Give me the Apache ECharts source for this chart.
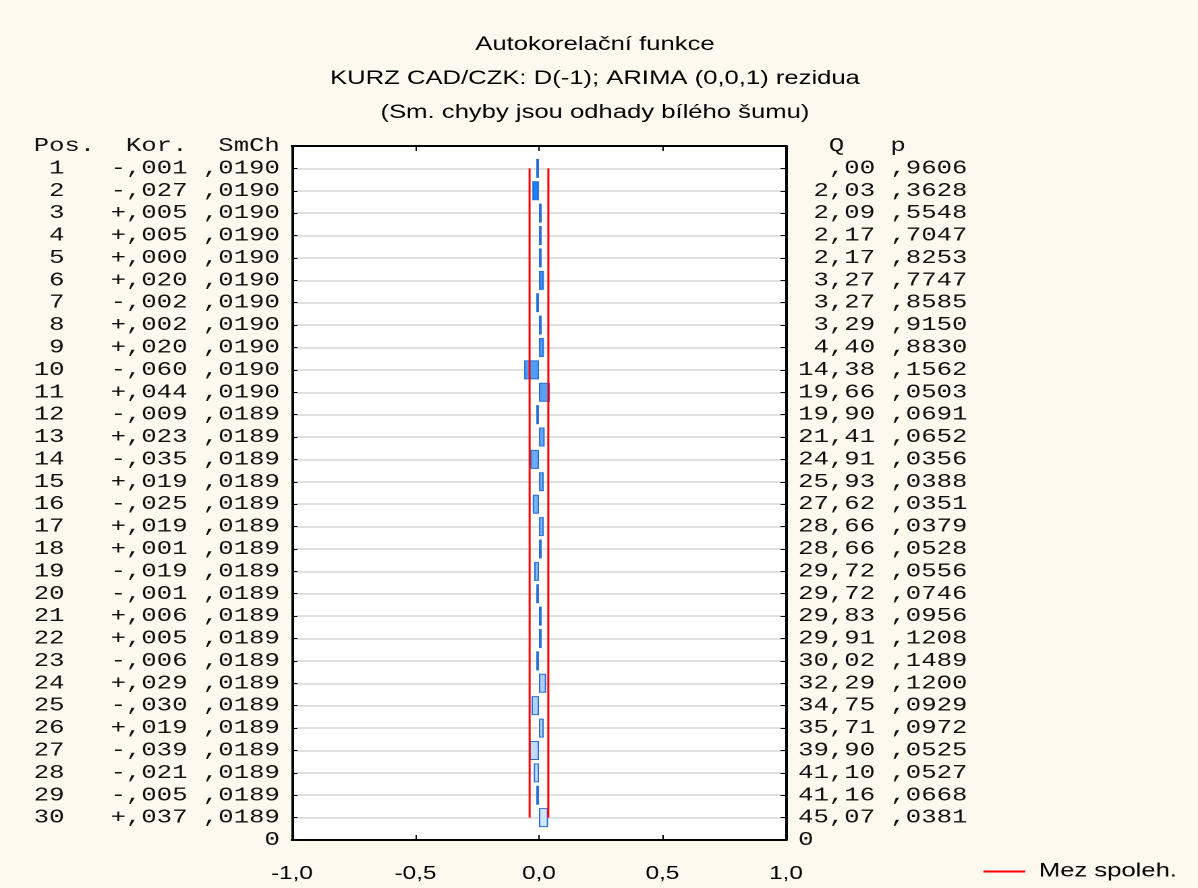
<!DOCTYPE html>
<html>
<head>
<meta charset="utf-8">
<script src="https://cdn.jsdelivr.net/npm/echarts@6/dist/echarts.min.js"></script>
<style>
html, body { margin: 0; padding: 0; background: #fdf9ef; overflow: hidden; }
/* the reference is stretched sideways, so the chart is drawn narrow and scaled */
#main { width: 888px; height: 888px; transform: scaleX(1.3491); transform-origin: 0 0; }
</style>
</head>
<body>
<div id="main"></div>
<script>
// data
var lags = [1, 2, 3, 4, 5, 6, 7, 8, 9, 10, 11, 12, 13, 14, 15, 16, 17, 18, 19, 20, 21, 22, 23, 24, 25, 26, 27, 28, 29, 30];
var kor = [-0.001, -0.027, 0.005, 0.005, 0.000, 0.020, -0.002, 0.002, 0.020, -0.060,
	0.044, -0.009, 0.023, -0.035, 0.019, -0.025, 0.019, 0.001, -0.019, -0.001,
	0.006, 0.005, -0.006, 0.029, -0.030, 0.019, -0.039, -0.021, -0.005, 0.037];
var smch = [0.0190, 0.0190, 0.0190, 0.0190, 0.0190, 0.0190, 0.0190, 0.0190, 0.0190, 0.0190,
	0.0190, 0.0189, 0.0189, 0.0189, 0.0189, 0.0189, 0.0189, 0.0189, 0.0189, 0.0189,
	0.0189, 0.0189, 0.0189, 0.0189, 0.0189, 0.0189, 0.0189, 0.0189, 0.0189, 0.0189];
var qStat = [0.00, 2.03, 2.09, 2.17, 2.17, 3.27, 3.27, 3.29, 4.40, 14.38,
	19.66, 19.90, 21.41, 24.91, 25.93, 27.62, 28.66, 28.66, 29.72, 29.72,
	29.83, 29.91, 30.02, 32.29, 34.75, 35.71, 39.90, 41.10, 41.16, 45.07];
var pVal = [0.9606, 0.3628, 0.5548, 0.7047, 0.8253, 0.7747, 0.8585, 0.9150, 0.8830, 0.1562,
	0.0503, 0.0691, 0.0652, 0.0356, 0.0388, 0.0351, 0.0379, 0.0528, 0.0556, 0.0746,
	0.0956, 0.1208, 0.1489, 0.1200, 0.0929, 0.0972, 0.0525, 0.0527, 0.0668, 0.0381];
// confidence limits (Mez spoleh.)
var mez = [0.0380, 0.0380, 0.0380, 0.0380, 0.0380, 0.0380, 0.0380, 0.0380, 0.0380, 0.0380,
	0.0380, 0.0378, 0.0378, 0.0378, 0.0378, 0.0378, 0.0378, 0.0378, 0.0378, 0.0378,
	0.0378, 0.0378, 0.0378, 0.0378, 0.0378, 0.0378, 0.0378, 0.0378, 0.0378, 0.0378];

// cislo bez nuly pred carkou: 0.0190 -> ,0190
function fmtNum(v, dec) {
	var s = Math.abs(v).toFixed(dec).replace('.', ',');
	if (s.charAt(0) === '0') s = s.substring(1);
	return s;
}
function pad(s, n) {
	s = String(s);
	while (s.length < n) s = ' ' + s;
	return s;
}

var leftLabels = ['Pos.  Kor.  SmCh'];
var rightLabels = ['  Q   p'];
for (var i = 0; i < lags.length; i++) {
	leftLabels.push(pad(lags[i], 2) + '   ' + (kor[i] < 0 ? '-' : '+') + fmtNum(kor[i], 3) + ' ' + fmtNum(smch[i], 4));
	rightLabels.push(pad(fmtNum(qStat[i], 2), 5) + ' ' + fmtNum(pVal[i], 4));
}
leftLabels.push('0');
rightLabels.push('0');

var barData = [];
var upper = [];
var lower = [];
for (var j = 0; j < lags.length; j++) {
	barData.push([kor[j], lags[j]]);
	upper.push([mez[j], lags[j]]);
	lower.push([-mez[j], lags[j]]);
}

function rowColor(params) {
	var t = (params.dataIndex) / (lags.length - 1);
	var a = [22, 125, 245], b = [210, 231, 252];
	var c = a.map(function (v, k) { return Math.round(v + (b[k] - v) * t); });
	return 'rgb(' + c.join(',') + ')';
}

var monoLabel = {
	fontFamily: 'Liberation Mono',
	fontSize: 19,
	color: '#111',
	interval: 0,
	margin: 9
};

var myChart = echarts.init(document.getElementById('main'), null, { devicePixelRatio: 2 });

var option = {
	backgroundColor: '#fdf9ef',
	animation: false,
	title: {
		text: 'Autokorelační funkce\nKURZ CAD/CZK: D(-1); ARIMA (0,0,1) rezidua\n(Sm. chyby jsou odhady bílého šumu)',
		left: 441,
		top: 28,
		padding: 0,
		textAlign: 'center',
		textStyle: {
			fontFamily: 'Liberation Sans',
			fontSize: 19,
			fontWeight: 'normal',
			color: '#000',
			lineHeight: 34
		}
	},
	legend: {
		data: ['Mez spoleh.'],
		left: 729,
		top: 862,
		padding: 0,
		icon: 'rect',
		itemWidth: 31,
		itemHeight: 2,
		textStyle: {
			fontFamily: 'Liberation Sans',
			fontSize: 19,
			color: '#000',
			padding: [0, 0, 0, 5]
		}
	},
	grid: {
		left: 216.4,
		right: 305.4,
		top: 146,
		bottom: 48,
		show: true,
		backgroundColor: '#ffffff',
		borderWidth: 0,
		outerBoundsMode: 'none'
	},
	xAxis: [
		{
			type: 'value',
			min: -1,
			max: 1,
			interval: 0.5,
			position: 'bottom',
			axisLine: { show: true, onZero: false, lineStyle: { color: '#000', width: 2 } },
			axisTick: { show: true, inside: true, length: 5, lineStyle: { color: '#000', width: 1 } },
			splitLine: { show: false },
			axisLabel: {
				fontFamily: 'Liberation Sans',
				fontSize: 18,
				color: '#000',
				margin: 25,
				formatter: function (v) { return v.toFixed(1).replace('.', ','); }
			}
		},
		{
			type: 'value',
			min: -1,
			max: 1,
			interval: 0.5,
			position: 'top',
			axisLine: { show: true, onZero: false, lineStyle: { color: '#000', width: 2 } },
			axisTick: { show: true, inside: true, length: 5, lineStyle: { color: '#000', width: 1 } },
			splitLine: { show: false },
			axisLabel: { show: false }
		}
	],
	yAxis: [
		{
			type: 'category',
			data: leftLabels,
			inverse: true,
			boundaryGap: false,
			position: 'left',
			axisLine: { show: true, onZero: false, lineStyle: { color: '#000', width: 2 } },
			axisTick: { show: true, inside: true, length: 4, interval: 0, lineStyle: { color: '#000', width: 1 } },
			splitLine: { show: true, interval: 0, lineStyle: { color: '#d6d6d6', width: 1.5 } },
			axisLabel: monoLabel
		},
		{
			type: 'category',
			data: rightLabels,
			inverse: true,
			boundaryGap: false,
			position: 'right',
			axisLine: { show: true, onZero: false, lineStyle: { color: '#000', width: 2 } },
			axisTick: { show: true, inside: true, length: 4, interval: 0, lineStyle: { color: '#000', width: 1 } },
			splitLine: { show: false },
			axisLabel: monoLabel
		}
	],
	series: [
		{
			name: 'Kor.',
			type: 'bar',
			xAxisIndex: 0,
			yAxisIndex: 0,
			barWidth: 19,
			barMinHeight: 2,
			data: barData,
			itemStyle: {
				color: rowColor,
				borderColor: '#2a6fd8',
				borderWidth: 1
			}
		},
		{
			name: 'Mez spoleh.',
			type: 'line',
			xAxisIndex: 0,
			yAxisIndex: 0,
			symbol: 'none',
			data: upper,
			lineStyle: { color: '#ff0000', width: 1.5 },
			itemStyle: { color: '#ff0000' }
		},
		{
			name: 'Mez spoleh.',
			type: 'line',
			xAxisIndex: 0,
			yAxisIndex: 0,
			symbol: 'none',
			data: lower,
			lineStyle: { color: '#ff0000', width: 1.5 },
			itemStyle: { color: '#ff0000' }
		}
	]
};

myChart.setOption(option);
</script>
</body>
</html>
